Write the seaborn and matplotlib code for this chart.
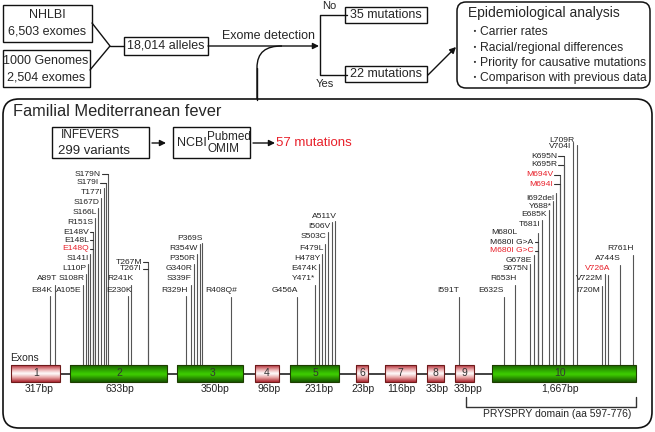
import matplotlib
matplotlib.use('Agg')
import matplotlib.pyplot as plt
import seaborn as sns
import numpy as np
from matplotlib.patches import Rectangle, FancyBboxPatch, PathPatch
from matplotlib.path import Path
from matplotlib.colors import LinearSegmentedColormap

# ---- data ----
exon_numbers = ['1', '2', '3', '4', '5', '6', '7', '8', '9', '10']
exon_sizes = ['317bp', '633bp', '350bp', '96bp', '231bp', '23bp', '116bp', '33bp', '33bpp', '1,667bp']
exon_kind = ['pink', 'green', 'green', 'pink', 'green', 'pink', 'pink', 'pink', 'pink', 'green']

mutations = ['E84K', 'A89T', 'A105E', 'S108R', 'L110P', 'S141I', 'E148V', 'E148L', 'E148Q',
             'R151S', 'S166L', 'S167D', 'T177I', 'S179N', 'S179I', 'E230K', 'R241K', 'T267M',
             'T267I', 'R329H', 'S339F', 'G340R', 'P350R', 'R354W', 'P369S', 'R408Q #',
             'G456A', 'Y471*', 'E474K', 'H478Y', 'F479L', 'S503C', 'I506V', 'A511V',
             'I591T', 'E632S', 'R653H', 'S675N', 'G678E', 'M680L', 'M680I G>A', 'M680I G>C',
             'T681I', 'E685K', 'Y688*', 'I692del', 'M694V', 'M694I', 'K695R', 'K695N',
             'V704I', 'L709R', 'I720M', 'V722M', 'V726A', 'A744S', 'R761H']
red_mutations = ['E148Q', 'M680I G>C', 'M694V', 'M694I', 'V726A']

sources = [('NHLBI', '6,503 exomes'), ('1000 Genomes', '2,504 exomes')]
alleles_label = '18,014 alleles'
outcomes = {'No': '35 mutations', 'Yes': '22 mutations'}
epi_title = 'Epidemiological analysis'
epi_items = ['Carrier rates', 'Racial/regional differences',
             'Priority for causative mutations', 'Comparison with previous data']

# ---- layout (pixel coordinates) ----
exon_x = [(11, 60), (70, 167), (177, 243), (255, 279), (290, 339),
          (356, 368), (385, 416), (427, 444), (455, 474), (492, 636)]
num_x = [36, 119, 213, 267, 315, 362, 400, 435, 464, 560]
size_x = [39, 120, 215, 269, 319, 363, 401, 437, 468, 560]
EY0, EY1 = 365, 382

# name: (text right, text y, line x, line top, tick)
mut_pos = {
    'E84K': (52, 290, 50, 296, False), 'A89T': (57, 279, 55, 285, False),
    'A105E': (81.5, 290, 83, 285, False), 'S108R': (84.5, 279, 86, 274, False),
    'L110P': (86.5, 269, 88, 264, False), 'S141I': (88.5, 259, 90, 254, False),
    'E148V': (89, 232, 92.5, 232, True), 'E148L': (89, 240, 92.5, 240, True),
    'E148Q': (89, 249, 92.5, 249, True), 'R151S': (93.5, 223, 95, 218, False),
    'S166L': (96.5, 213, 98, 208, False), 'S167D': (99.5, 203, 101, 198, False),
    'T177I': (102.5, 193, 104, 188, False), 'S179N': (101, 174, 107.5, 174, True),
    'S179I': (99, 183, 105.8, 183, True), 'E230K': (132, 290, 128, 296, False),
    'R241K': (133, 279, 131, 285, False), 'T267M': (142, 262, 148, 262, True),
    'T267I': (142, 269, 148, 269, True), 'R329H': (188, 290, 186, 296, False),
    'S339F': (191.5, 279, 191, 285, False), 'G340R': (192, 269, 193.5, 264, False),
    'P350R': (195.5, 259, 197, 254, False), 'R354W': (198, 249, 199.5, 244, False),
    'P369S': (203, 238, 202, 243, False), 'R408Q #': (237, 291, 231, 297, False),
    'G456A': (298, 291, 297, 297, False), 'Y471*': (315, 279, 315, 285, False),
    'E474K': (317.5, 269, 319, 264, False), 'H478Y': (320.5, 259, 322, 254, False),
    'F479L': (323.5, 249, 325, 244, False), 'S503C': (326.5, 237, 328, 232, False),
    'I506V': (330.5, 227, 332, 222, False), 'A511V': (337, 216, 334.5, 221, False),
    'I591T': (459, 291, 459, 297, False), 'E632S': (504, 291, 504, 297, False),
    'R653H': (517, 279, 515, 285, False), 'S675N': (528.5, 269, 530, 264, False),
    'G678E': (532.5, 260, 534, 255, False), 'M680L': (517, 233, 538, 233, False),
    'M680I G>A': (533.5, 242, 538, 242, True), 'M680I G>C': (533.5, 251, 538, 251, True),
    'T681I': (540.5, 225, 542, 220, False), 'E685K': (547, 215, 548.5, 210, False),
    'Y688*': (551.5, 206, 553, 201, False), 'I692del': (554.5, 198, 556, 193, False),
    'M694V': (553, 175, 560, 175, True), 'M694I': (553, 184, 560, 184, True),
    'K695R': (557, 165, 563.5, 165, True), 'K695N': (557, 156, 563.5, 156, True),
    'V704I': (571, 147, 572.5, 142, False), 'L709R': (574, 140, 577, 145, False),
    'I720M': (600.5, 291, 602, 286, False), 'V722M': (603.5, 279, 605, 274, False),
    'V726A': (610, 269, 608, 275, False), 'A744S': (621, 259, 620, 265, False),
    'R761H': (634, 249, 633, 255, False),
}

sns.set_theme(style='white')
plt.rcParams['font.family'] = ['Liberation Sans', 'Noto Sans CJK JP', 'DejaVu Sans']

fig = plt.figure(figsize=(6.55, 4.32), dpi=100)
ax = fig.add_axes([0, 0, 1, 1])
ax.set_xlim(0, 655)
ax.set_ylim(432, 0)
ax.axis('off')

K = '#111111'


def box(x0, y0, x1, y1, lw=1.0, rounded=0):
    if rounded:
        p = FancyBboxPatch((x0, y0), x1 - x0, y1 - y0,
                           boxstyle=f'round,pad=0,rounding_size={rounded}',
                           fc='white', ec=K, lw=lw)
    else:
        p = Rectangle((x0, y0), x1 - x0, y1 - y0, fc='white', ec=K, lw=lw)
    ax.add_patch(p)


def arrow(x0, y0, x1, y1):
    ax.annotate('', xy=(x1, y1), xytext=(x0, y0),
                arrowprops=dict(arrowstyle='-|>', color=K, lw=1.0,
                                mutation_scale=9, shrinkA=0, shrinkB=0))


# ---- top flowchart ----
box(3, 5, 92, 42)
box(3, 50, 90, 87)
for (a, b), yc, xc in zip(sources, [23, 69], [47, 46]):
    ax.text(xc, yc - 8, a, ha='center', va='center', fontsize=9)
    ax.text(xc, yc + 8, b, ha='center', va='center', fontsize=9)
ax.plot([92, 110, 90], [23, 46, 70], color=K, lw=1.0)
ax.plot([110, 124], [46, 46], color=K, lw=1.0)
box(124, 37, 208, 55)
ax.text(166, 46, alleles_label, ha='center', va='center', fontsize=9)
arrow(208, 46, 319, 46)
ax.text(269, 36, 'Exome detection', ha='center', va='center', fontsize=9)

ax.plot([347, 320, 320, 347], [15, 15, 75, 75], color=K, lw=1.0)
ax.text(322, 6, 'No', ha='left', va='center', fontsize=8)
ax.text(316, 84, 'Yes', ha='left', va='center', fontsize=8)
box(345, 7, 427, 23)
ax.text(386, 15, outcomes['No'], ha='center', va='center', fontsize=9)
box(345, 66, 427, 82)
ax.text(386, 74, outcomes['Yes'], ha='center', va='center', fontsize=9)
arrow(428, 75, 456, 47)

box(457, 2, 650, 88, lw=1.1, rounded=9)
ax.text(468, 13, epi_title, ha='left', va='center', fontsize=10)
for i, item in enumerate(epi_items):
    yy = 32 + i * 15.5
    ax.text(474, yy, '\u30fb', ha='center', va='center', fontsize=7,
            family=['Noto Sans CJK JP'])
    ax.text(480, yy, item, ha='left', va='center', fontsize=8.7)

# curve from the exome line into the FMF box
curve = Path([(257, 99), (257, 68), (257, 52), (266, 46), (282, 46)],
             [Path.MOVETO, Path.LINETO, Path.CURVE4, Path.CURVE4, Path.CURVE4])
ax.add_patch(PathPatch(curve, fc='none', ec=K, lw=1.0))

# ---- FMF panel ----
box(3, 99, 652, 428, lw=1.2, rounded=16)
ax.plot([257, 257], [68, 99.5], color=K, lw=1.0)
ax.text(13, 112, 'Familial Mediterranean fever', ha='left', va='center', fontsize=11.8)
box(52, 127, 149, 158)
ax.text(61, 135, 'INFEVERS', ha='left', va='center', fontsize=8.5)
ax.text(58, 151, '299 variants', ha='left', va='center', fontsize=9.5)
arrow(152, 143, 166, 143)
box(173, 127, 250, 158)
ax.text(177, 143, 'NCBI', ha='left', va='center', fontsize=9)
ax.text(207, 137, 'Pubmed', ha='left', va='center', fontsize=8.5)
ax.text(207, 149, 'OMIM', ha='left', va='center', fontsize=8.5)
arrow(253, 143, 275, 143)
ax.text(276, 143, '57 mutations', ha='left', va='center', fontsize=9.5, color='#e8202a')

# ---- mutation lines and labels ----
for name in mutations:
    xr, ty, lx, top, tick = mut_pos[name]
    col = '#e8202a' if name in red_mutations else '#222222'
    ax.text(xr, ty, name.replace(' #', '#'), ha='right', va='center', fontsize=6.1, color=col)
    ax.plot([lx, lx], [top, EY0], color='#555555', lw=0.8)
    if tick:
        ax.plot([xr + 1.2, lx], [ty, ty], color='#333333', lw=0.8)

# ---- gene structure ----
ax.plot([exon_x[0][1], exon_x[-1][0]], [374, 374], color='#333333', lw=1.3, zorder=1)
cmaps = {
    'pink': LinearSegmentedColormap.from_list('pk', [(0, '#b3303a'), (0.3, '#eeb8b8'),
                                                     (0.5, '#ffffff'), (0.75, '#e6a0a0'),
                                                     (1, '#a8242e')]),
    'green': LinearSegmentedColormap.from_list('gr', [(0, '#1b6200'), (0.4, '#34b800'),
                                                      (0.55, '#3fd000'), (1, '#165200')]),
}
edges = {'pink': '#6e1a1a', 'green': '#1d3d00'}
grad = np.linspace(0, 1, 64).reshape(-1, 1)
for (x0, x1), kind, num, nx, size, sx in zip(exon_x, exon_kind, exon_numbers,
                                            num_x, exon_sizes, size_x):
    ax.imshow(grad, extent=[x0, x1, EY1, EY0], cmap=cmaps[kind], aspect='auto',
              interpolation='bicubic', zorder=2)
    ax.add_patch(Rectangle((x0, EY0), x1 - x0, EY1 - EY0, fc='none',
                           ec=edges[kind], lw=0.8, zorder=3))
    ax.text(nx, 373, num, ha='center', va='center', fontsize=7.5, color='#333333', zorder=4)
    ax.text(sx, 389, size, ha='center', va='center', fontsize=7.5, color='#222222')

ax.text(10, 358, 'Exons', ha='left', va='center', fontsize=7.5)
ax.set_xlim(0, 655)
ax.set_ylim(432, 0)

# PRYSPRY bracket
ax.plot([466, 466, 636, 636], [397, 407, 407, 397], color='#333333', lw=1.0)
ax.text(557, 414, 'PRYSPRY domain (aa 597-776)', ha='center', va='center', fontsize=7.5)

fig.savefig('out.png', dpi=100)
